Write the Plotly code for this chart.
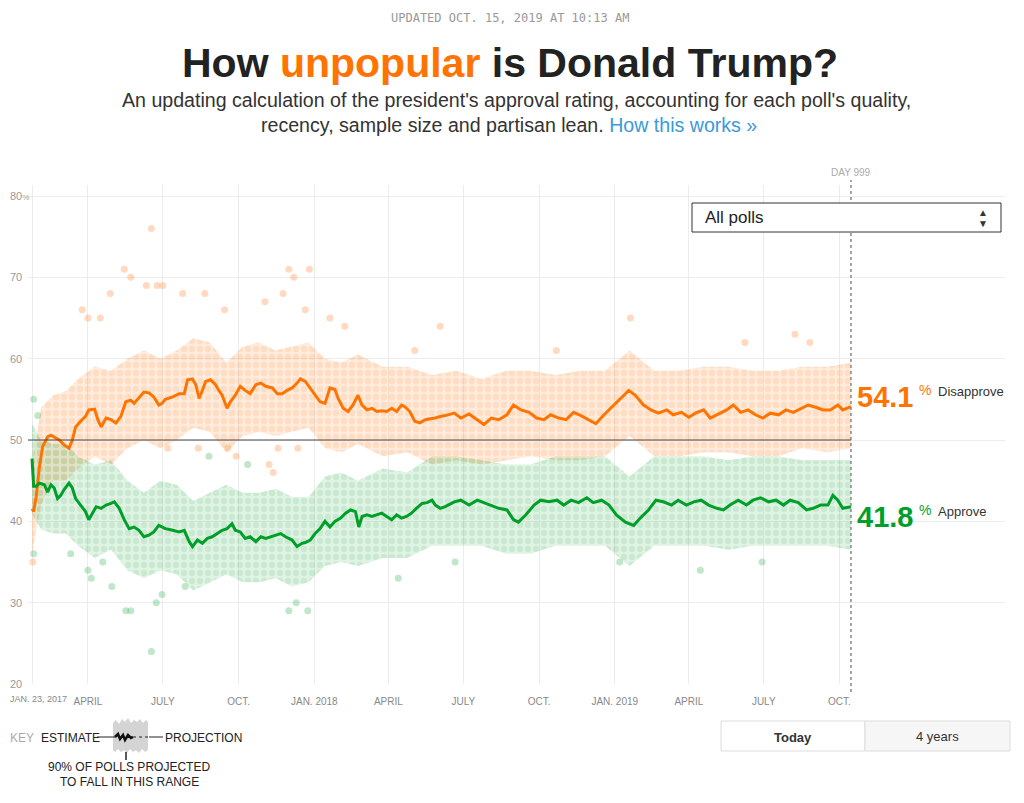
import plotly.graph_objects as go
import pandas as pd

# ---------------- DATA ----------------
# Day 1 = Jan 20, 2017 (inauguration); day 999 = Oct 15, 2019
dis_days = [4, 6, 9, 13, 17, 23, 27, 33, 37, 43, 49, 53, 57, 63, 69, 73, 80, 84, 88, 94, 100, 106, 112, 118,
            124, 128, 136, 140, 146, 152, 158, 162, 166, 175, 183, 189, 193, 199, 203, 207, 211, 215, 221, 227,
            231, 235, 241, 245, 251, 257, 263, 269, 276, 282, 288, 296, 302, 308, 314, 320, 326, 330, 336, 342,
            348, 354, 360, 366, 372, 376, 382, 388, 394, 400, 405, 411, 417, 423, 429, 435, 441, 447, 453, 457,
            463, 469, 475, 482, 488, 494, 500, 506, 517, 525, 535, 545, 553, 562, 571, 581, 589, 598, 608, 617,
            626, 634, 644, 653, 662, 671, 680, 689, 699, 707, 717, 729, 737, 747, 756, 765, 775, 783, 793, 802,
            810, 820, 828, 838, 848, 856, 865, 874, 883, 892, 901, 911, 920, 929, 938, 947, 957, 965, 974, 983,
            989, 999]
dis_vals = [41.6, 41.2, 43.0, 46.7, 49.2, 50.4, 50.6, 50.2, 50.0, 49.4, 49.0, 50.0, 51.6, 52.3, 52.9, 53.7,
            53.8, 52.5, 51.6, 52.7, 52.5, 52.1, 52.9, 54.7, 54.9, 54.5, 55.5, 55.9, 55.8, 55.3, 54.3, 54.5, 55.0,
            55.3, 55.7, 55.7, 57.4, 57.5, 56.8, 55.1, 56.1, 57.2, 57.4, 56.8, 56.1, 55.5, 53.9, 54.7, 55.5, 56.6,
            56.1, 55.7, 56.8, 57.0, 56.6, 56.4, 55.7, 55.7, 56.1, 56.4, 57.0, 57.5, 57.2, 56.4, 55.5, 54.7, 54.5,
            56.4, 56.2, 55.1, 53.9, 53.5, 54.3, 55.5, 54.3, 53.7, 53.9, 53.5, 53.6, 53.5, 53.9, 53.5, 54.3, 54.1,
            53.5, 52.3, 52.1, 52.5, 52.6, 52.7, 52.9, 53.0, 53.3, 52.7, 53.2, 52.5, 51.9, 52.7, 52.5, 53.1, 54.3,
            53.7, 53.4, 52.7, 52.5, 53.1, 52.7, 52.5, 53.4, 53.0, 52.5, 52.0, 53.1, 53.9, 54.9, 56.1, 55.5, 54.3,
            53.7, 53.3, 53.7, 53.1, 53.4, 52.8, 53.3, 53.7, 52.7, 53.2, 53.7, 54.3, 53.4, 53.7, 53.1, 52.7, 53.3,
            53.1, 53.7, 53.4, 53.9, 54.3, 54.0, 53.7, 53.7, 54.3, 53.7, 54.1]

app_days = [4, 5, 6, 9, 13, 19, 23, 27, 31, 35, 39, 43, 49, 53, 57, 63, 69, 73, 78, 82, 88, 94, 100, 104, 110,
            116, 122, 128, 134, 140, 146, 152, 158, 162, 166, 175, 183, 189, 195, 199, 205, 211, 217, 223, 229,
            235, 241, 247, 251, 257, 263, 269, 276, 282, 288, 294, 300, 306, 312, 320, 326, 332, 336, 342, 348,
            354, 360, 366, 372, 379, 385, 391, 397, 401, 405, 411, 417, 423, 429, 435, 441, 447, 453, 459, 465,
            471, 478, 484, 490, 494, 500, 506, 517, 525, 535, 545, 553, 562, 571, 581, 589, 595, 604, 614, 622,
            632, 642, 650, 659, 668, 678, 686, 696, 705, 714, 725, 735, 743, 753, 762, 771, 781, 789, 799, 808,
            817, 826, 836, 844, 852, 862, 872, 880, 889, 899, 908, 917, 925, 935, 945, 953, 962, 971, 977, 983,
            989, 999]
app_vals = [47.7, 45.9, 44.3, 44.3, 44.7, 44.5, 43.6, 44.5, 44.1, 42.8, 43.2, 43.9, 44.7, 44.1, 42.8, 42.0,
            41.2, 40.2, 41.0, 41.8, 41.6, 42.0, 42.2, 42.4, 41.6, 40.2, 39.1, 39.3, 38.9, 38.1, 38.3, 38.7, 39.5,
            39.3, 39.1, 38.9, 38.7, 38.9, 37.5, 36.9, 37.7, 37.3, 37.9, 38.1, 38.5, 38.9, 39.1, 39.7, 38.9, 38.7,
            37.9, 38.1, 37.5, 38.1, 37.9, 38.1, 38.3, 38.5, 38.1, 37.7, 36.9, 37.3, 37.4, 37.7, 38.5, 39.1, 40.0,
            39.3, 40.0, 40.4, 41.0, 41.4, 41.2, 39.3, 40.6, 40.8, 40.6, 40.8, 41.0, 40.6, 40.2, 40.8, 40.4, 40.6,
            41.0, 41.6, 42.2, 42.3, 42.6, 42.0, 41.6, 41.8, 42.4, 42.6, 42.0, 42.6, 42.3, 42.0, 41.6, 41.4, 40.2,
            39.9, 40.8, 42.0, 42.6, 42.4, 42.6, 42.0, 42.6, 42.3, 42.9, 42.3, 42.6, 42.0, 40.8, 39.9, 39.5, 40.4,
            41.4, 42.6, 42.4, 42.0, 42.6, 42.0, 42.4, 42.6, 42.0, 41.6, 41.4, 42.0, 42.6, 42.0, 42.6, 42.9, 42.4,
            42.6, 42.0, 42.6, 42.3, 41.4, 41.6, 42.0, 42.0, 43.2, 42.6, 41.6, 41.8]

# 90% polling ranges
band_days = [4, 15, 30, 45, 60, 80, 100, 120, 140, 160, 180, 200, 220, 240, 260, 280, 300, 320, 340, 360, 380,
             400, 430, 460, 490, 520, 550, 580, 610, 640, 670, 700, 730, 760, 790, 820, 850, 880, 910, 940, 970, 999]
dis_hi = [47, 54, 55.5, 56, 57.5, 59, 58.5, 60, 61, 60, 61, 62.5, 62, 59.5, 61.5, 62, 61, 61.5, 62, 60, 59.5,
          60.5, 59, 59, 58, 58.5, 57.5, 58.5, 58.5, 58, 58.5, 58.5, 61, 58.5, 58.5, 59, 59, 58.5, 58.5, 59, 59, 59.5]
dis_lo = [36, 42, 45, 45, 46.5, 48, 47, 49, 50, 49, 50, 51.5, 51, 48.5, 50.5, 51, 50.5, 51, 51.5, 49, 48.5,
          49.5, 48, 48.5, 47, 47.5, 47, 47.5, 48, 47.5, 47.5, 48, 50.5, 48, 48, 48.5, 48.5, 48, 48, 49, 48.5, 49]
app_hi = [52, 50, 49.5, 49.5, 48, 47, 47.5, 45, 43.5, 45, 44.5, 42.5, 43.5, 44.5, 43.5, 43.5, 44, 43, 43, 45.5,
          46, 45, 46.5, 46, 48, 48, 47.5, 47, 47, 48, 48, 48, 45.5, 48, 48, 48, 47.5, 48, 48, 47.5, 47.5, 47.5]
app_lo = [41, 39, 38.5, 38.5, 37, 35.5, 36.5, 34, 33, 34, 33.5, 31.5, 32.5, 33.5, 32.5, 32.5, 33, 32, 32.5, 34.5,
          35, 34.5, 35.5, 35.5, 37, 37, 37, 36, 36, 37, 37, 37, 34.5, 37, 37, 37, 36.5, 37, 37, 37, 37, 36.5]

# outlying individual polls
dis_poll_days = [5, 65, 72, 87, 99, 116, 124, 143, 149, 156, 163, 169, 187, 206, 214, 238, 242, 252, 287, 292,
                 297, 303, 309, 316, 322, 327, 336, 341, 366, 384, 469, 500, 641, 731, 870, 931, 949]
dis_poll_vals = [35, 66, 65, 65, 68, 71, 70, 69, 76, 69, 69, 49, 68, 49, 68, 66, 49, 48, 67, 47,
                 46, 49, 68, 71, 70, 49, 66, 71, 65, 64, 61, 64, 61, 65, 62, 63, 62]
app_poll_days = [6, 6, 11, 51, 72, 76, 90, 101, 118, 124, 149, 155, 162, 190, 219, 266, 316, 325, 339, 449,
                 518, 718, 816, 891]
app_poll_vals = [55, 36, 53, 36, 34, 33, 35, 32, 29, 29, 24, 30, 31, 32, 48, 47, 29, 30, 29, 33,
                 35, 35, 34, 35]

y_ticks = [20, 30, 40, 50, 60, 70, 80]
x_tick_dates = ['2017-01-23', '2017-04-01', '2017-07-01', '2017-10-01', '2018-01-01', '2018-04-01',
                '2018-07-01', '2018-10-01', '2019-01-01', '2019-04-01', '2019-07-01', '2019-10-01']
x_tick_text = ['JAN. 23, 2017', 'APRIL', 'JULY', 'OCT.', 'JAN. 2018', 'APRIL', 'JULY', 'OCT.',
               'JAN. 2019', 'APRIL', 'JULY', 'OCT.']
current_day = 999
current_dis = 54.1
current_app = 41.8

# ---------------- HELPERS ----------------
BASE = pd.Timestamp('2017-01-19')


def to_date(days):
    return [BASE + pd.Timedelta(days=d) for d in days]


# page body has an 8px margin: figure pixel = screen pixel - 8
OFF = 8
W, H = 1024 - 2 * OFF, 803 - 2 * OFF
L, R, T, B = 28, 1005, 185, 684          # plot area in screen pixels
PX_PER_PT = (684 - 196) / 60.0


def px(x):
    return (x - L) / (R - L)


def py(y):
    return (B - y) / (B - T)


ORANGE = '#ff7400'
GREEN = '#009f29'
SANS = 'Liberation Sans, Arial, sans-serif'

fig = go.Figure()


def band(days, hi, lo, fill, dot):
    xs = to_date(days) + to_date(days[::-1])
    ys = list(hi) + list(lo[::-1])
    fig.add_trace(go.Scatter(
        x=xs, y=ys, mode='lines', line=dict(width=0), fill='toself', fillcolor=fill,
        fillpattern=dict(shape='.', size=8, solidity=0.5, fgcolor=dot, fillmode='overlay'),
        hoverinfo='skip', showlegend=False))


band(band_days, dis_hi, dis_lo, 'rgba(255,160,90,0.20)', 'rgba(255,150,70,0.38)')
band(band_days, app_hi, app_lo, 'rgba(60,180,90,0.16)', 'rgba(60,180,90,0.28)')

fig.add_trace(go.Scatter(x=to_date(dis_poll_days), y=dis_poll_vals, mode='markers',
                         marker=dict(size=7, color='rgba(255,140,60,0.32)'), hoverinfo='skip', showlegend=False))
fig.add_trace(go.Scatter(x=to_date(app_poll_days), y=app_poll_vals, mode='markers',
                         marker=dict(size=7, color='rgba(60,180,90,0.32)'), hoverinfo='skip', showlegend=False))

fig.add_trace(go.Scatter(x=to_date(dis_days), y=dis_vals, mode='lines',
                         line=dict(color=ORANGE, width=3), hoverinfo='skip', showlegend=False))
fig.add_trace(go.Scatter(x=to_date(app_days), y=app_vals, mode='lines',
                         line=dict(color=GREEN, width=3), hoverinfo='skip', showlegend=False))

end_date = to_date([current_day])[0]
x_left = BASE + pd.Timedelta(days=4 - (32 - L) / 0.8231)
x_right = BASE + pd.Timedelta(days=4 + (R - 32) / 0.8231)

shapes = []
shapes.append(dict(type='line', xref='x', yref='y', x0=x_left, x1=end_date, y0=50, y1=50,
                   line=dict(color='#444', width=1), layer='above'))
shapes.append(dict(type='line', xref='x', yref='paper', x0=end_date, x1=end_date, y0=py(692), y1=py(180),
                   line=dict(color='#888', width=1.5, dash='dot'), layer='above'))
shapes.append(dict(type='rect', xref='paper', yref='paper', x0=px(692), x1=px(1001), y0=py(232), y1=py(203),
                   line=dict(color='#333', width=1), fillcolor='white', layer='above'))
shapes.append(dict(type='rect', xref='paper', yref='paper', x0=px(721), x1=px(865), y0=py(751), y1=py(721),
                   line=dict(color='#ddd', width=1), fillcolor='white'))
shapes.append(dict(type='rect', xref='paper', yref='paper', x0=px(865), x1=px(1010), y0=py(751), y1=py(721),
                   line=dict(color='#ddd', width=1), fillcolor='#f6f6f6'))


def path(points, close=False):
    s = ''
    for i, (x, y) in enumerate(points):
        s += ('M' if i == 0 else 'L') + f'{px(x):.5f},{py(y):.5f} '
    if close:
        s += 'Z'
    return s


blob = [(113, 723), (116, 720), (119, 724), (122, 719), (125, 722), (128, 718), (131, 723), (134, 720),
        (137, 722), (140, 719), (143, 723), (146, 720), (148, 722), (148, 750), (145, 752), (142, 749),
        (139, 753), (136, 750), (133, 752), (130, 749), (127, 753), (124, 750), (121, 752), (118, 749),
        (115, 752), (113, 750)]
shapes.append(dict(type='path', xref='paper', yref='paper', path=path(blob, True),
                   fillcolor='#d4d4d4', line=dict(width=0)))
shapes.append(dict(type='line', xref='paper', yref='paper', x0=px(97), x1=px(115), y0=py(737), y1=py(737),
                   line=dict(color='#222', width=1)))
squig = [(115, 737), (118, 734), (120, 739), (123, 735), (125, 740), (128, 735), (131, 738), (133, 737)]
shapes.append(dict(type='path', xref='paper', yref='paper', path=path(squig),
                   line=dict(color='#111', width=2.5)))
shapes.append(dict(type='line', xref='paper', yref='paper', x0=px(133), x1=px(149), y0=py(737), y1=py(737),
                   line=dict(color='#222', width=1, dash='dot')))
shapes.append(dict(type='line', xref='paper', yref='paper', x0=px(149), x1=px(163), y0=py(737), y1=py(737),
                   line=dict(color='#222', width=1)))
shapes.append(dict(type='line', xref='paper', yref='paper', x0=px(126), x1=px(126), y0=py(752), y1=py(760),
                   line=dict(color='#222', width=1.5)))

annotations = []


def ann(text, x, y, size, color, family=SANS, xanchor='center', yanchor='middle'):
    annotations.append(dict(text=text, x=px(x), y=py(y), xref='paper', yref='paper', xanchor=xanchor,
                            yanchor=yanchor, showarrow=False, font=dict(size=size, color=color, family=family)))


ann('UPDATED OCT. 15, 2019 AT 10:13 AM', 510, 18, 12, '#999', family='DejaVu Sans Mono, monospace')
ann('<b>How <span style="color:#ff7400">unpopular</span> is Donald Trump?</b>', 510, 63, 41, '#222')
ann("An updating calculation of the president's approval rating, accounting for each poll's quality,",
    517, 100, 19.6, '#333')
ann('recency, sample size and partisan lean. <span style="color:#3a9ad9">How this works »</span>',
    509, 125, 19.6, '#333')

# y tick labels (left aligned, as in the original)
for v in y_ticks:
    txt = f'{v}<span style="font-size:8px">%</span>' if v == 80 else f'{v}'
    annotations.append(dict(text=txt, x=px(8), y=v, xref='paper', yref='y', xanchor='left', yanchor='middle',
                            showarrow=False, font=dict(size=11, color='#999', family=SANS)))

# first x tick label sits at the page edge: draw it as text so it is not dropped
ann(x_tick_text[0], 8, 699, 9, '#888', xanchor='left')
tick_text_axis = [''] + x_tick_text[1:]

ann('DAY 999', 851, 172, 10, '#aaa')
ann('All polls', 703, 218, 17, '#222', xanchor='left')
ann('▲', 983, 213, 10, '#333')
ann('▼', 983, 223, 10, '#333')

ann(f'<b>{current_dis}</b>', 855, 397, 29, ORANGE, xanchor='left')
ann('%', 917, 390, 14, ORANGE, xanchor='left')
ann('Disapprove', 936, 391, 13, '#333', xanchor='left')
ann(f'<b>{current_app}</b>', 855, 517, 29, GREEN, xanchor='left')
ann('%', 917, 510, 14, GREEN, xanchor='left')
ann('Approve', 936, 511, 13, '#333', xanchor='left')

ann('KEY', 8, 738, 12, '#aaa', xanchor='left')
ann('ESTIMATE', 39, 738, 12, '#222', xanchor='left')
ann('PROJECTION', 163, 738, 12, '#222', xanchor='left')
ann('90% OF POLLS PROJECTED', 129, 767, 12, '#222')
ann('TO FALL IN THIS RANGE', 129, 782, 12, '#222')

ann('<b>Today</b>', 793, 737, 13, '#333')
ann('4 years', 937, 736, 13, '#333')

fig.update_layout(
    width=W, height=H,
    margin=dict(l=L - OFF, r=W - (R - OFF), t=T - OFF, b=H - (B - OFF), pad=0, autoexpand=False),
    paper_bgcolor='white', plot_bgcolor='white',
    shapes=shapes, annotations=annotations,
    xaxis=dict(range=[x_left, x_right], tickvals=[pd.Timestamp(d) for d in x_tick_dates],
               ticktext=tick_text_axis,
               showgrid=True, gridcolor='#ececec', gridwidth=1, zeroline=False, showline=False,
               ticks='outside', ticklen=8, tickcolor='rgba(0,0,0,0)',
               tickfont=dict(size=10, color='#888', family=SANS), fixedrange=True, automargin=False),
    yaxis=dict(range=[20, 20 + (B - T) / PX_PER_PT], tickvals=y_ticks, showticklabels=False,
               showgrid=True, gridcolor='#ececec', gridwidth=1, zeroline=False, showline=False, ticks='',
               fixedrange=True, automargin=False),
    hovermode=False,
)

fig.write_html('out.html')
